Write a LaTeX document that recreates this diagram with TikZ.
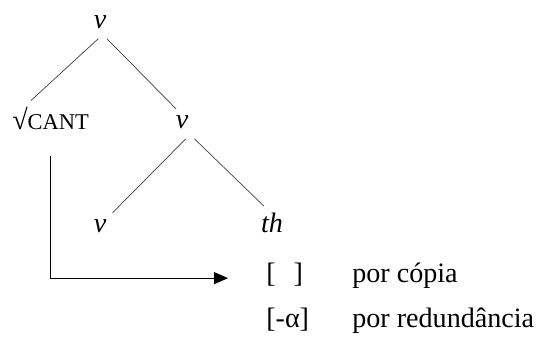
\documentclass[tikz,border=0pt]{standalone}
\usepackage{fontspec}
\setmainfont{Liberation Serif}
\usepackage{tikz}
\usetikzlibrary{arrows.meta,positioning,calc}
\newcommand{\smallcap}[1]{{\fontsize{16}{19}\selectfont #1}}

\begin{document}
\begin{tikzpicture}[
  >=Stealth,
  % Tree label
  cat/.style  = {inner sep=0.15cm, anchor=base, font=\fontsize{20}{24}\selectfont\itshape},
  % Root label
  rt/.style   = {inner sep=0.15cm, anchor=base west, font=\fontsize{20}{24}\selectfont},
  % Feature and gloss texts
  feat/.style = {inner sep=0.1cm, anchor=base west, font=\fontsize{20}{24}\selectfont},
  % Tree branch
  edge/.style = {line width=0.5pt, color=black!75,
                 shorten <=0.15cm, shorten >=0pt},
  arr/.style  = {-{Triangle[length=0.35cm,width=0.3cm]},
                 line width=0.7pt, color=black,
                 shorten <=0.5cm, shorten >=0.85cm}
]
\useasboundingbox (0,0) rectangle (13.5,-8.45);

% Tree nodes
\node[cat](vtop) at (2.50,-0.70){v};
\node[rt] (root) at (0.15,-3.23){√\smallcap{CANT}};
\node[cat](vmid) at (4.55,-3.20){v};
\node[cat](vbot) at (2.50,-5.80){v};
\node[cat](th)   at (6.80,-5.80){th};

% Features and glosses
\node[feat](copy) at (6.55,-7.05){[\hspace{0.45cm}]};
\node[feat](red)  at (6.55,-8.18){[-α]};
\node[feat](gcopy) at (8.70,-7.05){por cópia};
\node[feat](gred)  at (8.70,-8.18){por redundância};

% Branches
\draw[edge]([xshift=0.07cm]vtop.south)--([xshift=0.62cm]root.north west);
\draw[edge]([xshift=0.07cm]vtop.south)--([xshift=-0.15cm]vmid.north);
\draw[edge]([xshift=0.2cm]vmid.south)--(vbot.north east);
\draw[edge]([xshift=0.2cm]vmid.south)--([xshift=-0.2cm]th.north);

% Copy arrow
\draw[arr](root.south)|-([yshift=-0.1cm]copy.west);

\end{tikzpicture}
\end{document}
